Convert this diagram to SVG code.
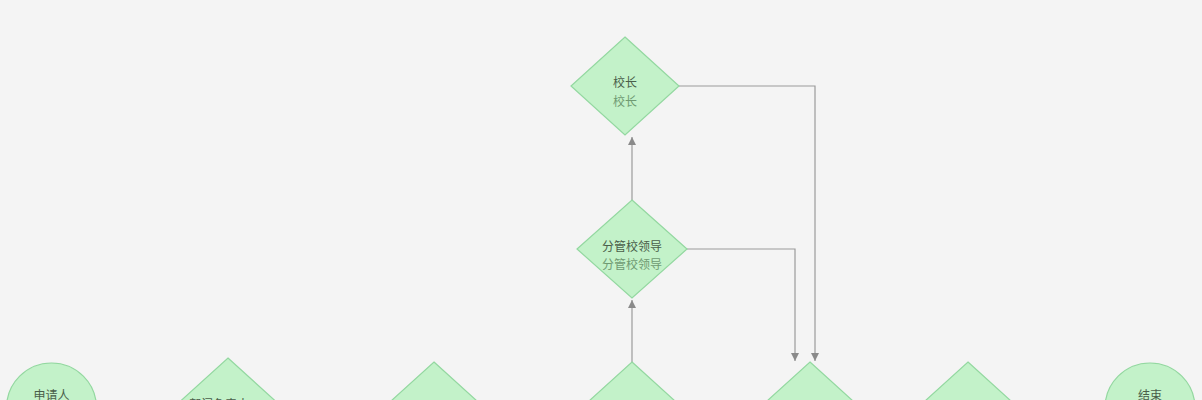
<svg xmlns="http://www.w3.org/2000/svg" width="1202" height="400" viewBox="0 0 1202 400">
<style>
.shape{fill:#c3f2c9;stroke:#93d8a0;stroke-width:1.2}
.t1{font-family:"Liberation Sans","Noto Sans CJK SC",sans-serif;font-size:12px;fill:#4a5e4a;text-anchor:middle}
.t2{font-family:"Liberation Sans","Noto Sans CJK SC",sans-serif;font-size:12px;fill:#6f9a72;text-anchor:middle}
.edge{fill:none;stroke:#9a9a9a;stroke-width:1.2}
</style>
<defs>
<marker id="arr" markerWidth="10" markerHeight="10" refX="8" refY="5" orient="auto" markerUnits="userSpaceOnUse">
<path d="M0,1 L8,5 L0,9 Z" fill="#8a8a8a"/>
</marker>
</defs>
<rect width="1202" height="400" fill="#f4f4f4"/>
<g id="connectors">
<path class="edge" d="M632,362 L632,300" marker-end="url(#arr)"/>
<path class="edge" d="M632,200 L632,137" marker-end="url(#arr)"/>
<path class="edge" d="M679,86 L815,86 L815,361" marker-end="url(#arr)"/>
<path class="edge" d="M686,249 L795,249 L795,361" marker-end="url(#arr)"/>
</g>
<g id="node-principal">
<path class="shape" d="M625,37 L679,86 L625,135 L571,86 Z"/>
<text class="t1" x="625" y="87">校长</text>
<text class="t2" x="625" y="106">校长</text>
</g>
<g id="node-vice">
<path class="shape" d="M632,200 L687,249 L632,298 L577,249 Z"/>
<text class="t1" x="632" y="251">分管校领导</text>
<text class="t2" x="632" y="269">分管校领导</text>
</g>
<g id="node-start">
<circle class="shape" cx="51.5" cy="408" r="45"/>
<text class="t1" x="51.5" y="400">申请人</text>
</g>
<g id="node-d2">
<path class="shape" d="M228,358 L282,407 L228,456 L174,407 Z"/>
<text class="t1" x="219" y="409">部门负责人</text>
</g>
<g id="node-d3">
<path class="shape" d="M434,362 L488,411 L434,460 L380,411 Z"/>
</g>
<g id="node-d4">
<path class="shape" d="M632,362 L686,411 L632,460 L578,411 Z"/>
</g>
<g id="node-d5">
<path class="shape" d="M810,362 L864,411 L810,460 L756,411 Z"/>
</g>
<g id="node-d6">
<path class="shape" d="M968,362 L1022,411 L968,460 L914,411 Z"/>
</g>
<g id="node-end">
<circle class="shape" cx="1150" cy="408" r="45"/>
<text class="t1" x="1150" y="400">结束</text>
</g>
</svg>
